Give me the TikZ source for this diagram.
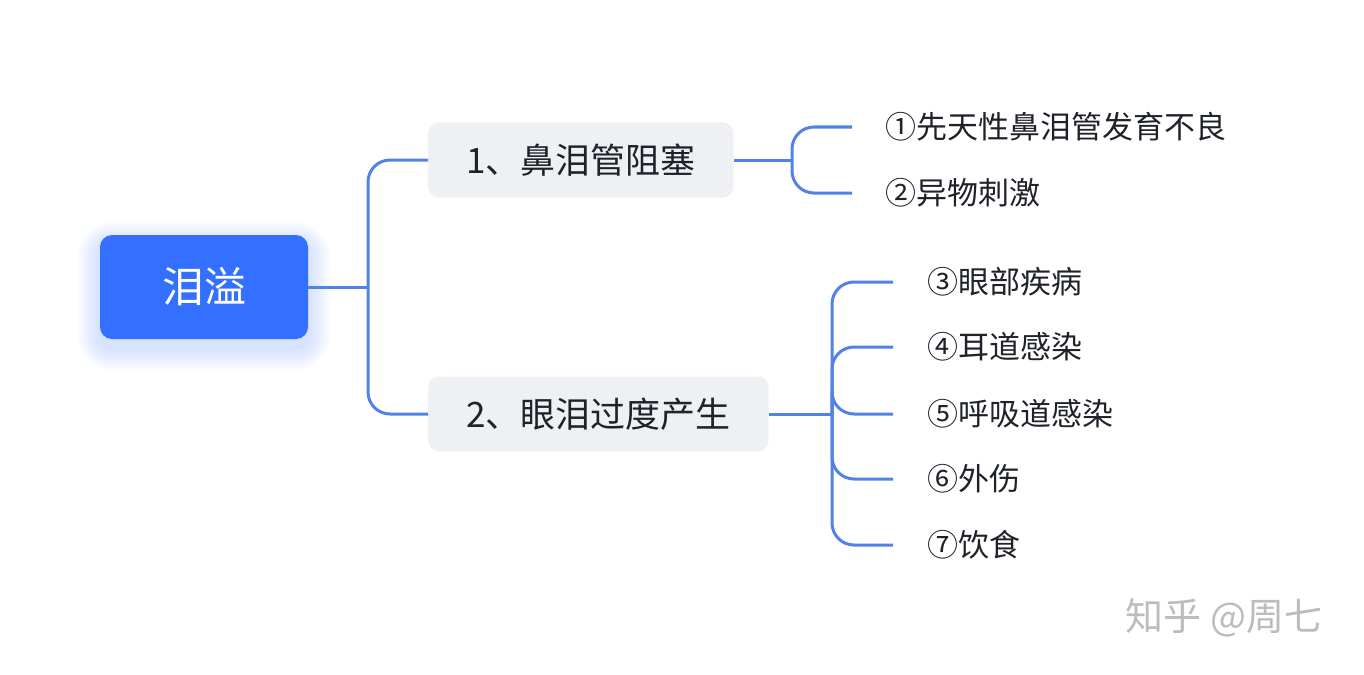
\documentclass[tikz,border=0pt]{standalone}
\usepackage{fontspec}
\setmainfont{Noto Sans CJK SC}
\usetikzlibrary{calc}
\usetikzlibrary{backgrounds}
\definecolor{rootblue}{RGB}{51,112,255}
\definecolor{linkblue}{RGB}{82,130,232}
\definecolor{boxgray}{RGB}{239,240,243}
\definecolor{inkdark}{RGB}{31,35,41}
\definecolor{markgray}{RGB}{188,188,188}
\tikzset{root/.style={fill=rootblue, rounded corners=12pt, minimum width=208pt, minimum height=104pt, text=white, font=\fontsize{42}{42}\selectfont}}
\tikzset{topic/.style={fill=boxgray, rounded corners=11pt, minimum height=75pt, inner xsep=38pt, anchor=west, text=inkdark, font=\fontsize{35}{35}\selectfont}}
\tikzset{leaf/.style={anchor=west, inner xsep=0pt, text=inkdark, font=\fontsize{31}{31}\selectfont}}
\tikzset{link/.style={draw=linkblue, line width=3pt, rounded corners=22pt}}

\begin{document}
\begin{tikzpicture}[x=1pt, y=-1pt, line join=round]
            \useasboundingbox (0,0) rectangle (1364,674);

            \node [root] (R) at (204,287) {泪溢};
            \begin{scope}[on background layer]
              \foreach \g [evaluate=\g as \r using 12+\g] in {2,4,...,22}
                \fill [rootblue, opacity=0.018, rounded corners=\r pt]
                  ($(R.south west)+(-\g,\g+9)$) rectangle ($(R.north east)+(\g,-\g+9)$);
            \end{scope}

            \node [topic] (B1) at (428,160) {1、鼻泪管阻塞};
            \node [topic] (B2) at (428,414) {2、眼泪过度产生};

            \coordinate (J0) at (368,287);
            \coordinate (J1) at (792,160);
            \coordinate (J2) at (832,414);

            \node [leaf] (L1) at (885,127) {①先天性鼻泪管发育不良};
            \node [leaf] (L2) at (885,193) {②异物刺激};
            \node [leaf] (L3) at (927,282) {③眼部疾病};
            \node [leaf] (L4) at (927,347) {④耳道感染};
            \node [leaf] (L5) at (927,414) {⑤呼吸道感染};
            \node [leaf] (L6) at (927,479) {⑥外伤};
            \node [leaf] (L7) at (927,545) {⑦饮食};

            \draw [link] (R.east) -- (J0);
            \draw [link] (J0) |- (B1.west);
            \draw [link] (J0) |- (B2.west);

            \draw [link] (B1.east) -- (J1);
            \draw [link] (J1) |- ([xshift=-33pt]L1.west);
            \draw [link] (J1) |- ([xshift=-33pt]L2.west);

            \draw [link] (B2.east) -- (J2);
            \foreach \l in {L3,L4,L5,L6,L7}
              \draw [link] (J2) |- ([xshift=-34pt]\l.west);

            \node [text=markgray, font=\fontsize{38}{38}\selectfont] (W) at (1224,618) {知乎 @周七};
          \end{tikzpicture}
\end{document}
